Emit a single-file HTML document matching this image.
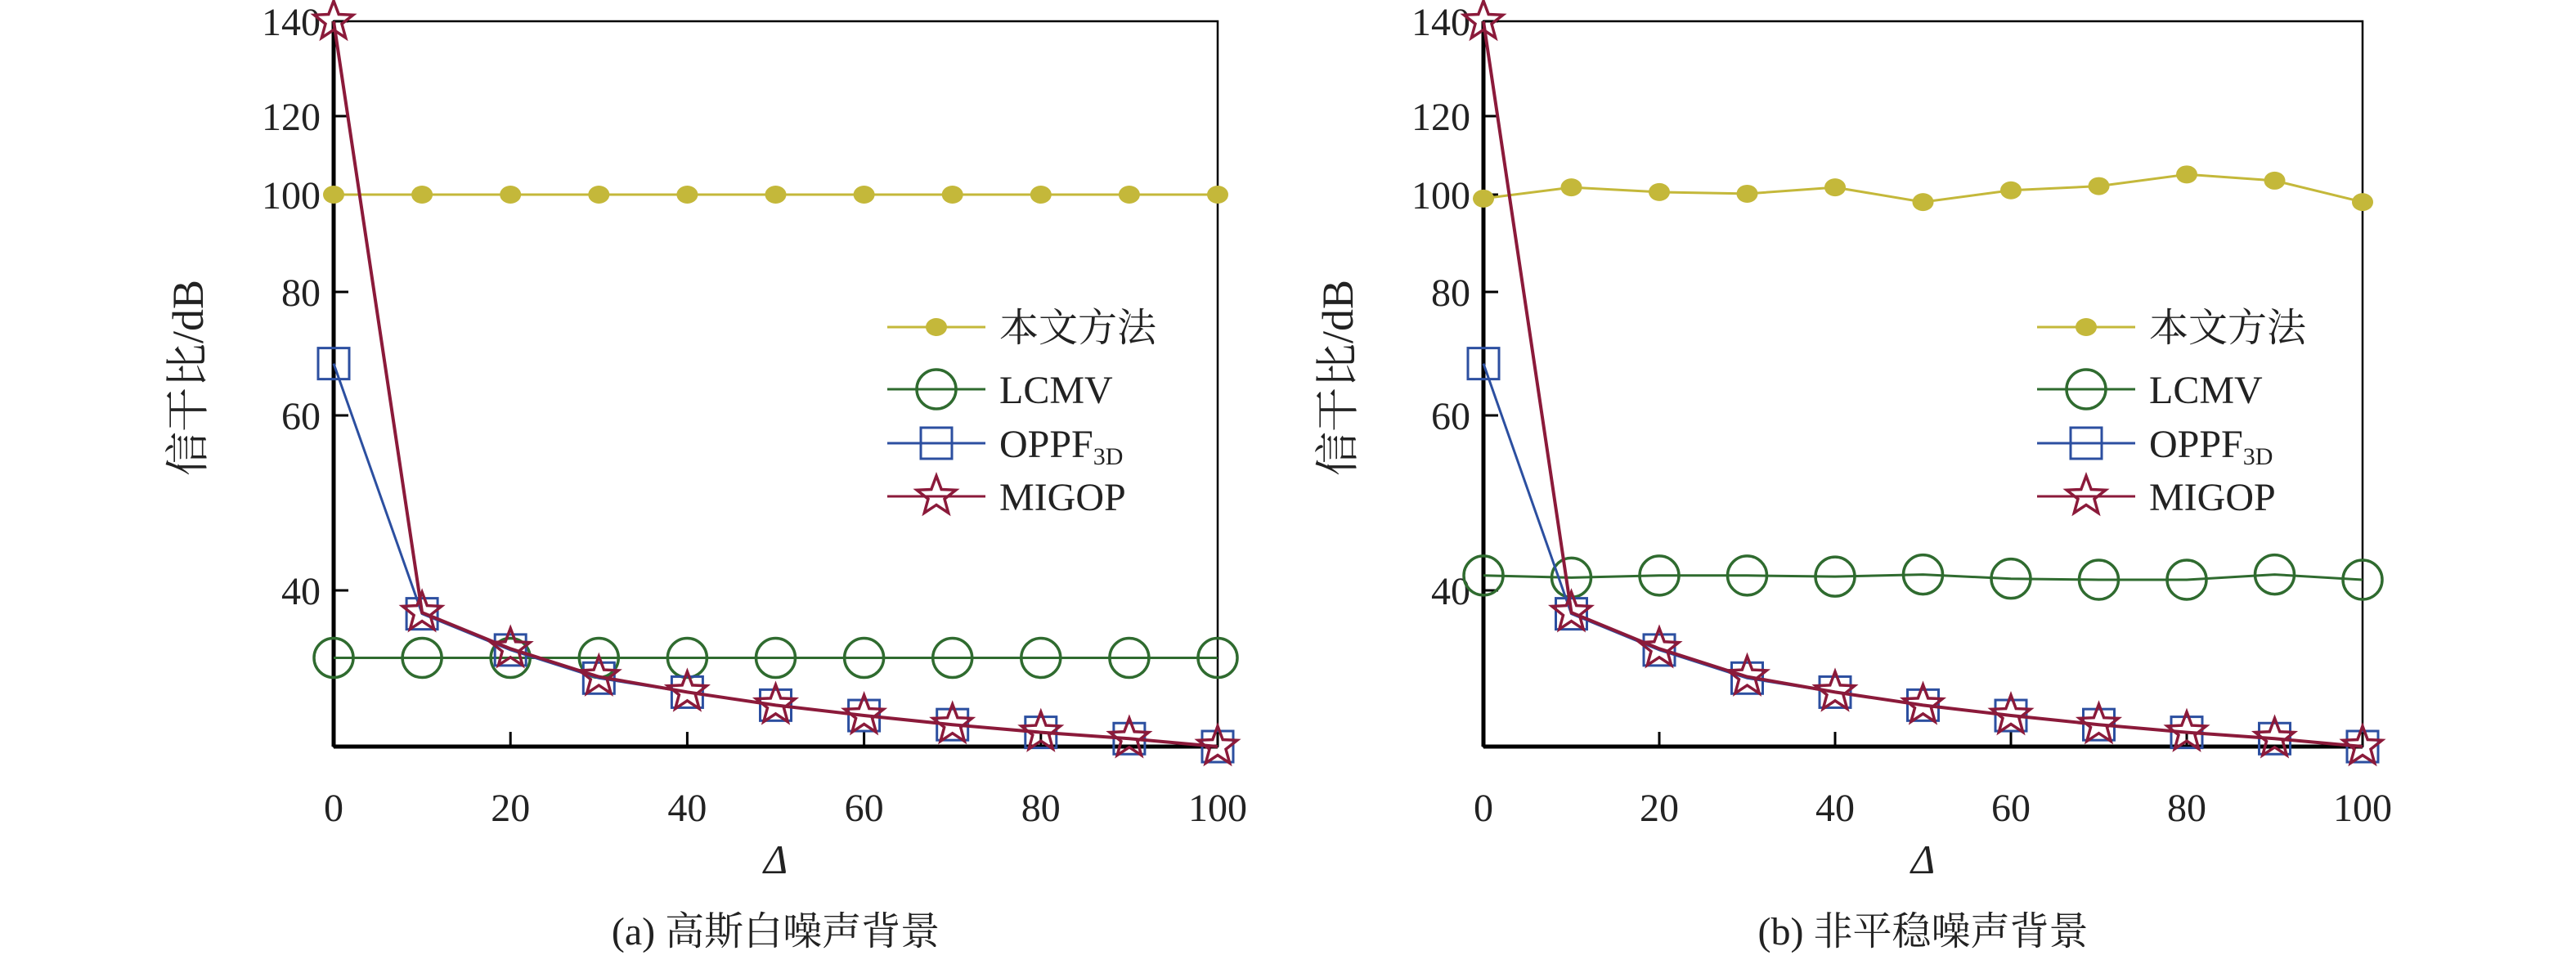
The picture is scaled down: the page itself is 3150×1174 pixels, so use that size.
<!DOCTYPE html>
<html><head><meta charset="utf-8"><style>
html,body{margin:0;padding:0;background:#fff;}
svg{display:block;font-family:"Liberation Serif","Noto Serif CJK SC",serif;}
</style></head><body>
<svg id="fig" width="3150" height="1174" viewBox="0 0 3150 1174" xmlns="http://www.w3.org/2000/svg"></svg>
<script>
const xCats = [0,10,20,30,40,50,60,70,80,90,100];
const xTickLabels = [0,20,40,60,80,100];
const yTickLabels = [40,60,80,100,120,140];
const legendNames = ["本文方法","LCMV","OPPF","MIGOP"];
const proposedA = [100,100,100,100,100,100,100,100,100,100,100];
const lcmvA = [34.5,34.5,34.5,34.5,34.5,34.5,34.5,34.5,34.5,34.5,34.5];
const oppfA = [67.7,38.0,35.1,33.0,32.0,31.1,30.4,29.8,29.3,28.9,28.4];
const migopA = [140,38.1,35.2,33.1,32.0,31.1,30.4,29.8,29.3,28.9,28.4];
const proposedB = [99.1,101.7,100.6,100.2,101.7,98.3,101,102,104.8,103.3,98.3];
const lcmvB = [41.4,41.2,41.4,41.4,41.3,41.5,41.1,41.0,41.0,41.5,41.0];
const oppfB = [67.7,38.0,35.1,33.0,32.0,31.1,30.4,29.8,29.3,28.9,28.4];
const migopB = [140,38.1,35.2,33.1,32.0,31.1,30.4,29.8,29.3,28.9,28.4];

const NS="http://www.w3.org/2000/svg";
const svg=document.getElementById('fig');
function el(tag,attrs,parent){const e=document.createElementNS(NS,tag);for(const k in attrs)e.setAttribute(k,attrs[k]);(parent||svg).appendChild(e);return e;}
const TOP=26,BOT=913;
const calV=[28.4,40,60,80,100,120,140];
const calP=[913,722,508,357,238,142,26];
function yS(v){
  for(let i=0;i<calV.length-1;i++){
    if(v<=calV[i+1]||i===calV.length-2){
      const t=(Math.log(v)-Math.log(calV[i]))/(Math.log(calV[i+1])-Math.log(calV[i]));
      return calP[i]+t*(calP[i+1]-calP[i]);
    }
  }
}
const COL={p:"#c4b83a",l:"#2f6b2f",o:"#2c4fa0",m:"#8b1a3a"};
function starPts(cx,cy,R){const r=R*0.42;let p=[];for(let i=0;i<10;i++){const a=-Math.PI/2+i*Math.PI/5;const rr=i%2?r:R;p.push((cx+rr*Math.cos(a)).toFixed(1)+","+(cy+rr*Math.sin(a)).toFixed(1));}return p.join(" ");}
function marker(g,type,cx,cy){
  let m;
  if(type==='p') m=el('ellipse',{cx:cx,cy:cy,rx:13,ry:11,fill:COL.p},g);
  else if(type==='l') m=el('ellipse',{cx:cx,cy:cy,rx:24,ry:24,fill:'none',stroke:COL.l,'stroke-width':3.5},g);
  else if(type==='o') m=el('rect',{x:cx-19,y:cy-19,width:38,height:38,fill:'none',stroke:COL.o,'stroke-width':3},g);
  else m=el('polygon',{points:starPts(cx,cy,25),fill:'none',stroke:COL.m,'stroke-width':3.5},g);
  return m;
}
function panel(id,x0,x1,series,caption){
  const g=el('g',{});
  
  
  const xS=v=>x0+(v/100)*(x1-x0);
  const box=el('rect',{x:x0,y:TOP,width:x1-x0,height:BOT-TOP,fill:'none',stroke:'#000','stroke-width':2.5},g);
  
  
  el('line',{x1:x0,y1:TOP,x2:x0,y2:BOT,stroke:'#000','stroke-width':5},g);
  el('line',{x1:x0,y1:BOT,x2:x1,y2:BOT,stroke:'#000','stroke-width':5},g);
  yTickLabels.forEach(v=>{
    const y=yS(v);
    el('line',{x1:x0,y1:y,x2:x0+18,y2:y,stroke:'#000','stroke-width':3},g);
    const t=el('text',{x:x0-16,y:y+17,'text-anchor':'end','font-size':48,fill:'#222'},g);
    t.textContent=v;
    
    
  });
  xTickLabels.forEach(v=>{
    const x=xS(v);
    el('line',{x1:x,y1:BOT,x2:x,y2:BOT-18,stroke:'#000','stroke-width':3},g);
    const t=el('text',{x:x,y:1004,'text-anchor':'middle','font-size':48,fill:'#222'},g);
    t.textContent=v;
    
    
  });
  const yl=el('text',{x:0,y:0,'text-anchor':'middle','font-size':54,fill:'#222',transform:'translate('+(x0-160)+',462) rotate(-90)'},g);
  yl.textContent='信干比/dB';
  
  
  const xl=el('text',{x:(x0+x1)/2,y:1068,'text-anchor':'middle','font-size':50,'font-style':'italic',fill:'#222'},g);
  xl.textContent='Δ';
  
  
  const cp=el('text',{x:(x0+x1)/2,y:1155,'text-anchor':'middle','font-size':48,fill:'#222'},g);
  cp.textContent=caption;
  
  
  series.forEach(s=>{
    const sg=el('g',{},g);
    
    
    const pts=xCats.map((c,i)=>xS(c).toFixed(1)+','+yS(s.vals[i]).toFixed(1)).join(' ');
    const pl=el('polyline',{points:pts,fill:'none',stroke:COL[s.t],'stroke-width':s.t==='m'?4:3},sg);
    
    
    xCats.forEach((c,i)=>{
      const m=marker(sg,s.t,xS(c),yS(s.vals[i]));
      
      
    });
  });
  const lx=x0+677, ly=[400,476,542,607], types=['p','l','o','m'];
  const lg=el('g',{},g);
  
  
  types.forEach((t,i)=>{
    el('line',{x1:lx,y1:ly[i],x2:lx+120,y2:ly[i],stroke:COL[t],'stroke-width':3},lg);
    marker(lg,t,lx+60,ly[i]);
    const tx=el('text',{x:lx+137,y:ly[i]+17,'font-size':48,fill:'#222'},lg);
    
    
    tx.textContent=legendNames[i];
    if(t==='o'){const ts=el('tspan',{'font-size':30,dy:9},tx);ts.textContent='3D';}
  });
}
panel('a',408,1489,[{name:'proposed',t:'p',vals:proposedA},{name:'lcmv',t:'l',vals:lcmvA},{name:'oppf3d',t:'o',vals:oppfA},{name:'migop',t:'m',vals:migopA}],'(a) 高斯白噪声背景');
panel('b',1814,2889,[{name:'proposed',t:'p',vals:proposedB},{name:'lcmv',t:'l',vals:lcmvB},{name:'oppf3d',t:'o',vals:oppfB},{name:'migop',t:'m',vals:migopB}],'(b) 非平稳噪声背景');
</script>
</body></html>
